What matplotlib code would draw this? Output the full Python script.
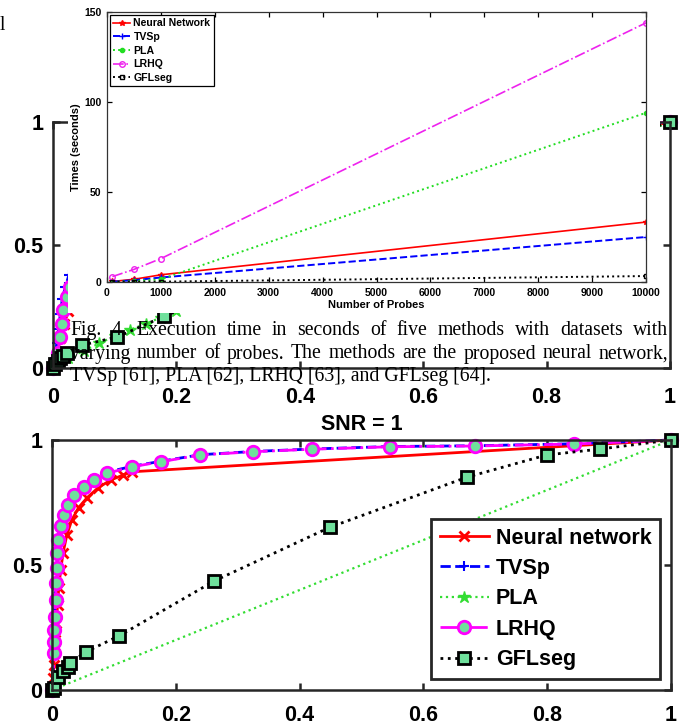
import matplotlib
matplotlib.use('Agg')
import matplotlib.pyplot as plt
from matplotlib.patches import Rectangle

plt.rcParams['font.family'] = ['Liberation Sans', 'DejaVu Sans']
plt.rcParams['font.weight'] = 'bold'

W, H = 687, 728

# ---- ROC data, lower panel (SNR = 1) ----
nn_x = [0, 0.002, 0.003, 0.004, 0.005, 0.007, 0.009, 0.011, 0.014, 0.018, 0.024, 0.032, 0.043, 0.057, 0.075, 0.095, 0.115, 0.13, 1]
nn_y = [0, 0.05, 0.1, 0.15, 0.2, 0.27, 0.34, 0.41, 0.48, 0.55, 0.62, 0.68, 0.73, 0.77, 0.81, 0.84, 0.86, 0.873, 1]
tvsp_x = [0, 0.003, 0.003, 0.003, 0.004, 0.005, 0.006, 0.007, 0.008, 0.009, 0.013, 0.018, 0.025, 0.035, 0.05, 0.067, 0.088, 0.13, 0.176, 0.239, 0.324, 0.42, 0.546, 0.683, 0.844, 1]
tvsp_y = [0, 0.15, 0.2, 0.245, 0.298, 0.365, 0.432, 0.492, 0.552, 0.605, 0.661, 0.705, 0.745, 0.785, 0.818, 0.845, 0.871, 0.895, 0.915, 0.941, 0.954, 0.964, 0.974, 0.977, 0.985, 1]
pla_x = [0, 1]
pla_y = [0, 1]
lrhq_x = [0, 0.004, 0.004, 0.004, 0.005, 0.006, 0.0065, 0.0075, 0.0086, 0.010, 0.014, 0.019, 0.026, 0.036, 0.051, 0.068, 0.089, 0.13, 0.176, 0.239, 0.324, 0.42, 0.546, 0.683, 0.844, 1]
lrhq_y = [0, 0.147, 0.193, 0.24, 0.293, 0.36, 0.427, 0.487, 0.547, 0.6, 0.656, 0.70, 0.74, 0.78, 0.813, 0.84, 0.867, 0.893, 0.913, 0.94, 0.953, 0.963, 0.973, 0.976, 0.984, 1]
gfl_x = [0, 0.004, 0.01, 0.017, 0.026, 0.029, 0.055, 0.108, 0.262, 0.449, 0.67, 0.799, 0.886, 1]
gfl_y = [0, 0.01, 0.053, 0.075, 0.093, 0.107, 0.153, 0.216, 0.436, 0.651, 0.851, 0.94, 0.964, 1]

# ---- ROC data, upper panel (mostly covered) ----
nn2_x = [0, 0.006, 0.012, 0.018, 0.025, 0.033, 0.045, 0.06, 0.09, 0.14, 1]
nn2_y = [0, 0.05, 0.12, 0.18, 0.23, 0.28, 0.34, 0.4, 0.48, 0.56, 1]
tvsp2_x = [0, 0.003, 0.006, 0.009, 0.012, 0.015, 0.02, 0.026, 0.034, 0.045, 0.06, 0.09, 0.14, 0.25, 0.5, 1]
tvsp2_y = [0, 0.04, 0.1, 0.16, 0.22, 0.28, 0.33, 0.38, 0.43, 0.48, 0.54, 0.62, 0.7, 0.8, 0.9, 1]
pla2_x = [0, 0.025, 0.05, 0.075, 0.1, 0.125, 0.15, 0.175, 0.2, 0.3, 0.4, 0.5, 0.6, 0.7, 0.8, 0.9, 1]
pla2_y = [0, 0.04, 0.07, 0.1, 0.13, 0.155, 0.18, 0.205, 0.23, 0.33, 0.43, 0.53, 0.62, 0.72, 0.81, 0.9, 1]
lrhq2_x = [0, 0.004, 0.008, 0.011, 0.014, 0.017, 0.022, 0.028, 0.036, 0.046, 0.06, 0.08, 0.11, 0.15, 0.2, 0.3, 0.45, 0.65, 0.85, 1]
lrhq2_y = [0, 0.02, 0.06, 0.126, 0.18, 0.236, 0.29, 0.33, 0.38, 0.43, 0.5, 0.57, 0.64, 0.71, 0.77, 0.84, 0.9, 0.95, 0.98, 1]
gfl2_x = [0, 0.004, 0.008, 0.012, 0.016, 0.022, 0.047, 0.104, 0.18, 0.3, 0.45, 0.65, 0.85, 1]
gfl2_y = [0, 0.015, 0.03, 0.04, 0.05, 0.06, 0.093, 0.126, 0.21, 0.33, 0.48, 0.68, 0.88, 1]

roc_xticks = [0, 0.2, 0.4, 0.6, 0.8, 1]
roc_xlabels = ['0', '0.2', '0.4', '0.6', '0.8', '1']
roc_yticks = [0, 0.5, 1]
roc_ylabels = ['0', '0.5', '1']

# ---- execution time inset ----
probes = [100, 500, 1000, 10000]
t_nn = [0.3, 1.5, 4, 33.3]
t_tvsp = [0.2, 1, 2.5, 25]
t_pla = [0.1, 0.5, 1.5, 94]
t_lrhq = [3, 7, 13, 144]
t_gfl = [0.2, 0.2, 0.2, 3.3]
time_xticks = list(range(0, 10001, 1000))
time_yticks = [0, 50, 100, 150]

names_roc = ['Neural network', 'TVSp', 'PLA', 'LRHQ', 'GFLseg']
names_time = ['Neural Network', 'TVSp', 'PLA', 'LRHQ', 'GFLseg']

caption = [
    "Fig. 4. Execution time in seconds of five methods with datasets with",
    "varying number of probes. The methods are the proposed neural network,",
    "TVSp [61], PLA [62], LRHQ [63], and GFLseg [64].",
]

fill = '#6fe09c'
dark = '#262626'


def fx(px):
    return px / W


def fy(py):
    return 1 - py / H


def axes_px(x0, y0, x1, y1):
    return [fx(x0), fy(y1), (x1 - x0) / W, (y1 - y0) / H]


def roc_lines(ax, d):
    ax.plot(d[0], d[1], '-', color='red', lw=2, marker='x', ms=7, mew=2, clip_on=False)
    ax.plot(d[2], d[3], '--', color='blue', lw=2, marker='+', ms=7, mew=1.5, clip_on=False)
    ax.plot(d[4], d[5], ':', color='#33dd33', lw=1.6, marker='*', ms=9, mew=1, clip_on=False)
    ax.plot(d[6], d[7], '-.', color='#ff00ff', lw=2, marker='o', ms=9, mew=2,
            mfc=fill, mec='#ff00ff', clip_on=False)
    ax.plot(d[8], d[9], ':', color='black', lw=2, marker='s', ms=8, mew=2,
            mfc=fill, mec='black', clip_on=False)


def roc_style(ax):
    ax.set_xlim(0, 1)
    ax.set_ylim(0, 1)
    ax.set_xticks(roc_xticks)
    ax.set_xticklabels(roc_xlabels)
    ax.set_yticks(roc_yticks)
    ax.set_yticklabels(roc_ylabels)
    for s in ax.spines.values():
        s.set_linewidth(1.8)
        s.set_color(dark)
    ax.tick_params(direction='in', length=5, width=1.8, color=dark,
                   top=True, right=True, labelsize=15.5)
    ax.tick_params(axis='x', pad=11)
    ax.tick_params(axis='y', pad=7)


fig = plt.figure(figsize=(W / 100, H / 100), dpi=100)

# upper ROC panel (background)
ax_top = fig.add_axes(axes_px(53, 122, 670, 368), zorder=0)
roc_lines(ax_top, [nn2_x, nn2_y, tvsp2_x, tvsp2_y, pla2_x, pla2_y,
                   lrhq2_x, lrhq2_y, gfl2_x, gfl2_y])
roc_style(ax_top)
ax_top.tick_params(axis='x', pad=14)

# lower ROC panel
ax_bot = fig.add_axes(axes_px(52, 440, 671, 690), zorder=0)
roc_lines(ax_bot, [nn_x, nn_y, tvsp_x, tvsp_y, pla_x, pla_y,
                   lrhq_x, lrhq_y, gfl_x, gfl_y])
roc_style(ax_bot)
ax_bot.set_title('SNR = 1', fontsize=15.5, fontweight='bold', pad=7)
leg = ax_bot.legend(names_roc, loc='lower right', fontsize=15.5,
                    bbox_to_anchor=(fx(660), fy(679)), bbox_transform=fig.transFigure,
                    borderaxespad=0, fancybox=False, framealpha=1,
                    handlelength=2.3, labelspacing=0.44, handletextpad=0.3,
                    borderpad=0.4)
leg.get_frame().set_linewidth(2)
leg.get_frame().set_edgecolor(dark)

# white patch of the pasted execution-time figure
fig.add_artist(Rectangle((fx(68), fy(313)), (660 - 68) / W, 313 / H,
                         transform=fig.transFigure, facecolor='white',
                         edgecolor='none', zorder=1))

# inset: execution time
ax_in = fig.add_axes(axes_px(107, 12, 646, 282), zorder=2)
ax_in.plot(probes, t_nn, '-', color='red', lw=1.2, marker='*', ms=4)
ax_in.plot(probes, t_tvsp, '--', color='blue', lw=1.4, marker='+', ms=5)
ax_in.plot(probes, t_pla, ':', color='#22dd22', lw=1.4, marker='.', ms=6)
ax_in.plot(probes, t_lrhq, '-.', color='#ee22ee', lw=1.2, marker='o', ms=4, mfc='none')
ax_in.plot(probes, t_gfl, ':', color='black', lw=1.4, marker='s', ms=3.5, mfc='none')
ax_in.set_xlim(0, 10000)
ax_in.set_ylim(0, 150)
ax_in.set_xticks(time_xticks)
ax_in.set_yticks(time_yticks)
for s in ax_in.spines.values():
    s.set_linewidth(0.9)
    s.set_color('#333333')
ax_in.tick_params(direction='in', length=3.5, width=0.9, top=True, right=True,
                  labelsize=7.5, pad=4)
ax_in.set_xlabel('Number of Probes', fontsize=8, fontweight='bold', labelpad=2)
ax_in.set_ylabel('Times (seconds)', fontsize=8, fontweight='bold', labelpad=2)
leg_in = ax_in.legend(names_time, loc='upper left', fontsize=7.6, fancybox=False,
                      framealpha=1, handlelength=1.6, labelspacing=0.35,
                      handletextpad=0.3, borderpad=0.3, borderaxespad=0.3)
leg_in.get_frame().set_linewidth(0.9)
leg_in.get_frame().set_edgecolor('black')

# caption lines, first two justified
renderer = fig.canvas.get_renderer()
cap_fs = 14.2
baselines = [335, 358.5, 381]
for i, line in enumerate(caption):
    if i < 2:
        words = line.split(' ')
        texts = [fig.text(0, fy(baselines[i]), w, fontsize=cap_fs, family='Liberation Serif',
                          fontweight='normal', va='baseline', ha='left', zorder=3)
                 for w in words]
        widths = [t.get_window_extent(renderer).width for t in texts]
        gap = (668 - 70 - sum(widths)) / (len(words) - 1)
        x = 70
        for t, w in zip(texts, widths):
            t.set_x(fx(x))
            x += w + gap
    else:
        fig.text(fx(70), fy(baselines[i]), line, fontsize=cap_fs, family='Liberation Serif',
                 fontweight='normal', va='baseline', ha='left', zorder=3)

# fragment of a neighbouring column at the top-left corner
fig.text(fx(0), fy(30), 'l', fontsize=cap_fs, family='Liberation Serif',
         fontweight='normal', va='baseline', ha='left')

fig.savefig('out.png', dpi=100)
